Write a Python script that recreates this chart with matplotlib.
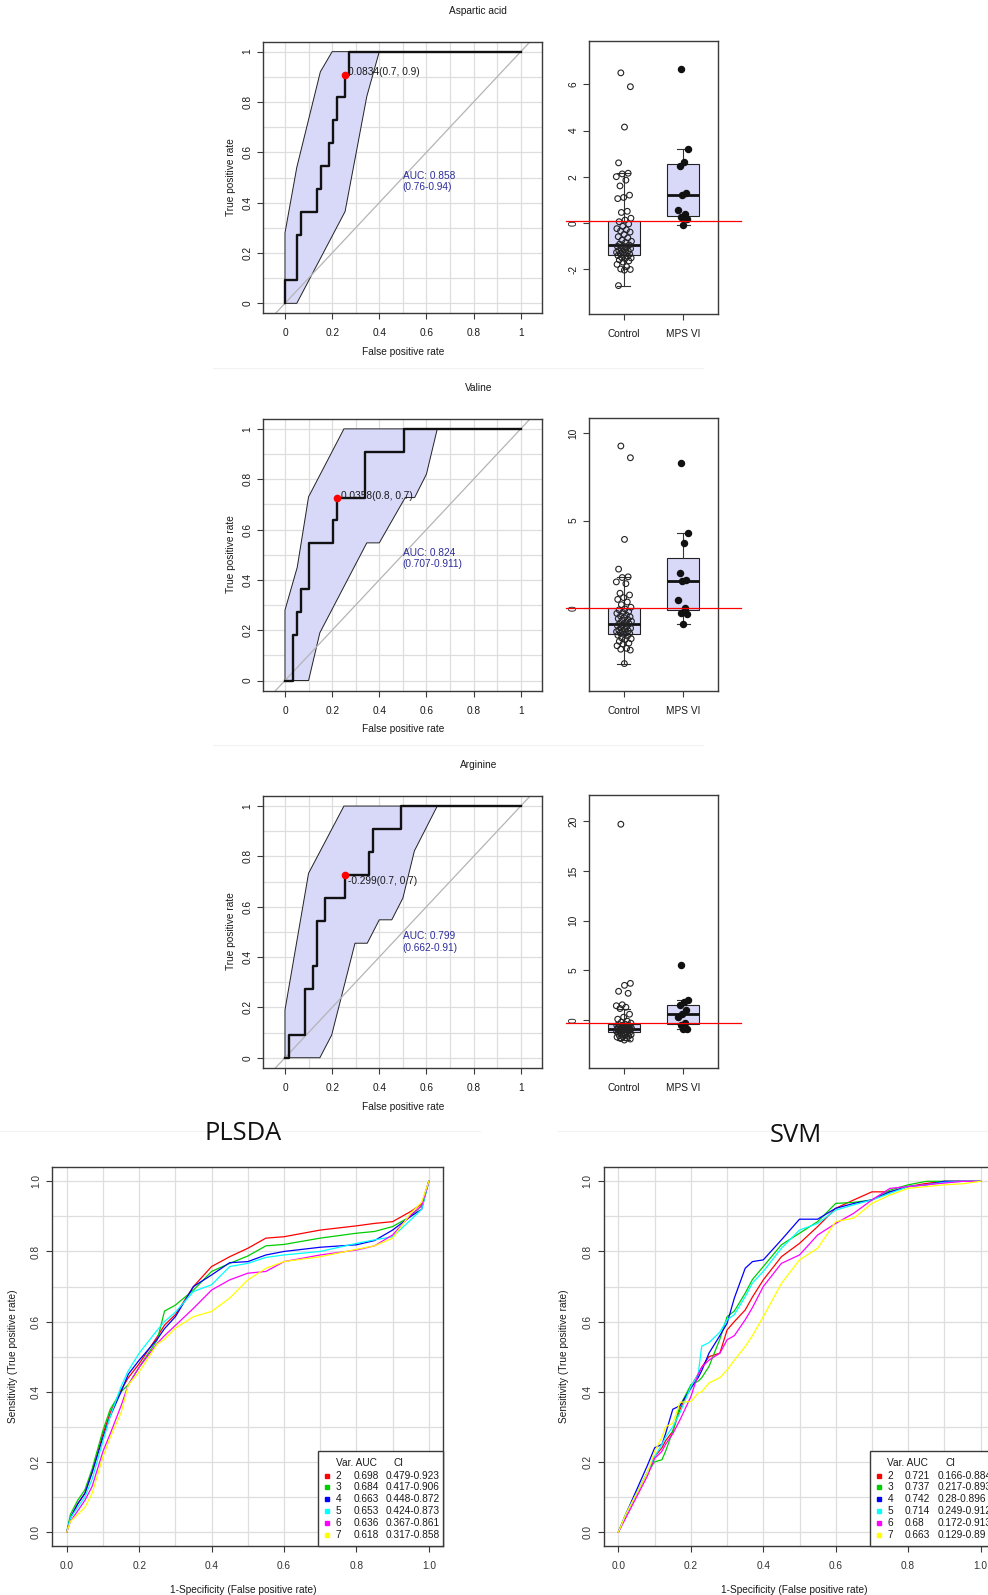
import matplotlib
matplotlib.use('Agg')
import matplotlib.pyplot as plt
from matplotlib.patches import Rectangle
import numpy as np

W, H, DPI = 988, 1595, 100
plt.rcParams['font.family'] = ['Liberation Sans', 'DejaVu Sans']

# ---------------- data: single-metabolite ROC curves ----------------
titles = ["Aspartic acid", "Valine", "Arginine"]

asp_fpr = [0, 0.051, 0.066, 0.134, 0.151, 0.187, 0.204, 0.219, 0.253, 0.270]
asp_tpr = [0.091, 0.273, 0.364, 0.455, 0.545, 0.636, 0.727, 0.818, 0.909, 1.0]
val_fpr = [0.034, 0.051, 0.066, 0.102, 0.205, 0.219, 0.339, 0.506]
val_tpr = [0.182, 0.273, 0.364, 0.545, 0.636, 0.727, 0.909, 1.0]
arg_fpr = [0.017, 0.085, 0.117, 0.134, 0.171, 0.253, 0.355, 0.372, 0.491]
arg_tpr = [0.091, 0.273, 0.364, 0.545, 0.636, 0.727, 0.818, 0.909, 1.0]

# confidence bands (polygon vertices, fpr / tpr)
asp_band_x = [0, 0, 0.05, 0.15, 0.20, 0.40, 0.347, 0.255, 0.05, 0]
asp_band_y = [0, 0.28, 0.54, 0.92, 1.0, 1.0, 0.822, 0.365, 0, 0]
val_band_x = [0, 0, 0.052, 0.10, 0.25, 0.646, 0.60, 0.55, 0.51, 0.40, 0.347, 0.148, 0.10, 0]
val_band_y = [0, 0.28, 0.45, 0.73, 1.0, 1.0, 0.82, 0.727, 0.727, 0.547, 0.547, 0.19, 0, 0]
arg_band_x = [0, 0, 0.10, 0.25, 0.646, 0.549, 0.50, 0.453, 0.40, 0.349, 0.297, 0.198, 0.148, 0]
arg_band_y = [0, 0.19, 0.733, 1.0, 1.0, 0.822, 0.634, 0.548, 0.548, 0.455, 0.455, 0.09, 0, 0]

best_points = [(0.253, 0.909), (0.219, 0.727), (0.253, 0.727)]
best_labels = ["0.0834(0.7, 0.9)", "0.0358(0.8, 0.7)", "-0.299(0.7, 0.7)"]
best_label_y = [0.918, 0.734, 0.704]
best_label_x = [0.269, 0.236, 0.269]
auc_labels = ["AUC: 0.858\n(0.76-0.94)", "AUC: 0.824\n(0.707-0.911)", "AUC: 0.799\n(0.662-0.91)"]
auc_label_y = [0.484, 0.486, 0.46]

# ---------------- data: box plots (normalised concentrations) ----------------
groups = ["Control", "MPS VI"]
asp_ctrl = [6.5, 5.9, 4.15, 2.6, 2.15, 2.12, 2.0, 1.85, 1.6, 1.2, 1.1, 1.05, 0.5, 0.45, 0.2, 0.12,
            0.05, -0.05, -0.15, -0.25, -0.3, -0.35, -0.4, -0.5, -0.6, -0.65, -0.75, -0.8, -0.85, -0.92,
            -0.96, -1.0, -1.02, -1.05, -1.1, -1.12, -1.15, -1.2, -1.22, -1.25, -1.28, -1.3, -1.33, -1.36,
            -1.39, -1.42, -1.45, -1.5, -1.52, -1.55, -1.6, -1.65, -1.7, -1.8, -1.9, -2.0, -2.02, -2.05, -2.72]
asp_mps = [6.65, 3.2, 2.65, 2.45, 1.3, 1.2, 0.55, 0.4, 0.25, 0.15, -0.1]
val_ctrl = [9.27, 8.6, 3.93, 2.23, 1.79, 1.75, 1.5, 1.4, 0.85, 0.75, 0.6, 0.5, 0.35, 0.2, 0.05,
            -0.05, -0.1, -0.2, -0.25, -0.3, -0.4, -0.45, -0.5, -0.55, -0.6, -0.65, -0.7, -0.75, -0.82,
            -0.88, -0.9, -0.95, -1.0, -1.05, -1.1, -1.15, -1.2, -1.25, -1.3, -1.32, -1.35, -1.4, -1.42,
            -1.45, -1.5, -1.55, -1.6, -1.7, -1.75, -1.8, -1.9, -2.0, -2.05, -2.15, -2.3, -2.35, -2.4, -3.17]
val_mps = [8.3, 4.27, 3.7, 2.0, 1.6, 1.55, 0.45, 0.02, -0.3, -0.32, -0.88]
arg_ctrl = [19.7, 3.7, 3.5, 2.9, 2.7, 1.55, 1.45, 1.3, 1.17, 0.6, 0.3, 0.1, -0.1, -0.2, -0.3,
            -0.4, -0.45, -0.5, -0.52, -0.55, -0.6, -0.62, -0.65, -0.7, -0.72, -0.75, -0.78, -0.8, -0.82,
            -0.84, -0.86, -0.88, -0.9, -0.93, -0.95, -0.98, -1.0, -1.03, -1.06, -1.1, -1.13, -1.16, -1.2,
            -1.22, -1.26, -1.3, -1.35, -1.4, -1.45, -1.5, -1.55, -1.6, -1.65, -1.7, -1.8, -1.85, -1.9, -2.0]
arg_mps = [5.55, 2.0, 1.8, 1.5, 1.0, 0.64, 0.3, -0.3, -0.5, -0.85, -0.9]

# box statistics: (q1, median, q3, whisker low, whisker high)
asp_box = [(-1.40, -0.96, 0.09, -2.72, 2.15), (0.31, 1.21, 2.54, -0.11, 3.19)]
val_box = [(-1.47, -0.88, 0.0, -3.17, 1.79), (-0.11, 1.53, 2.84, -0.88, 4.27)]
arg_box = [(-1.24, -0.84, -0.37, -2.0, 1.17), (-0.37, 0.64, 1.57, -0.84, 2.0)]
cutoffs = [0.09, 0.0, -0.27]
box_ylims = [(-3.95, 7.88), (-4.75, 10.86), (-4.85, 22.6)]
box_yticks = [[-2, 0, 2, 4, 6], [0, 5, 10], [0, 5, 10, 15, 20]]

# ---------------- data: multivariate ROC curves ----------------
var_names = ["2", "3", "4", "5", "6", "7"]
curve_colors = ["#ff0000", "#00cd00", "#0000ff", "#00ffff", "#ff00ff", "#ffff00"]

pls_x = [0, 0.01, 0.03, 0.05, 0.07, 0.1, 0.12, 0.15, 0.17, 0.2, 0.25, 0.27, 0.3, 0.35, 0.4, 0.45,
         0.5, 0.55, 0.6, 0.7, 0.8, 0.85, 0.9, 0.95, 0.98, 1.0]
pls_auc = ["0.698", "0.684", "0.663", "0.653", "0.636", "0.618"]
pls_ci = ["0.479-0.923", "0.417-0.906", "0.448-0.872", "0.424-0.873", "0.367-0.861", "0.317-0.858"]
pls_y = [
    [0, 0.04, 0.08, 0.11, 0.17, 0.28, 0.34, 0.405, 0.44, 0.48, 0.557, 0.59, 0.62, 0.70, 0.757, 0.785,
     0.809, 0.838, 0.842, 0.861, 0.873, 0.88, 0.885, 0.914, 0.935, 1.0],
    [0, 0.05, 0.09, 0.12, 0.18, 0.29, 0.35, 0.40, 0.42, 0.47, 0.548, 0.63, 0.647, 0.69, 0.743, 0.766,
     0.787, 0.816, 0.82, 0.838, 0.852, 0.857, 0.871, 0.90, 0.93, 1.0],
    [0, 0.04, 0.08, 0.11, 0.17, 0.27, 0.33, 0.40, 0.45, 0.49, 0.55, 0.58, 0.614, 0.70, 0.733, 0.768,
     0.771, 0.79, 0.80, 0.812, 0.819, 0.831, 0.861, 0.90, 0.92, 1.0],
    [0, 0.04, 0.07, 0.10, 0.15, 0.26, 0.33, 0.415, 0.46, 0.51, 0.576, 0.60, 0.627, 0.686, 0.705, 0.757,
     0.766, 0.783, 0.79, 0.80, 0.823, 0.833, 0.842, 0.89, 0.92, 1.0],
    [0, 0.03, 0.06, 0.09, 0.13, 0.23, 0.28, 0.36, 0.42, 0.47, 0.538, 0.56, 0.589, 0.638, 0.69, 0.719,
     0.738, 0.743, 0.771, 0.79, 0.804, 0.816, 0.847, 0.904, 0.93, 1.0],
    [0, 0.03, 0.05, 0.07, 0.11, 0.215, 0.27, 0.34, 0.42, 0.457, 0.536, 0.55, 0.581, 0.614, 0.629, 0.667,
     0.719, 0.752, 0.771, 0.785, 0.806, 0.816, 0.838, 0.909, 0.94, 1.0],
]

svm_x = [0, 0.02, 0.05, 0.08, 0.1, 0.12, 0.13, 0.15, 0.17, 0.2, 0.22, 0.23, 0.25, 0.28, 0.3, 0.32,
         0.35, 0.37, 0.4, 0.45, 0.5, 0.55, 0.6, 0.65, 0.7, 0.75, 0.8, 0.85, 0.9, 0.95, 1.0]
svm_auc = ["0.721", "0.737", "0.742", "0.714", "0.68", "0.663"]
svm_ci = ["0.166-0.884", "0.217-0.893", "0.28-0.896", "0.249-0.912", "0.172-0.913", "0.129-0.89"]
svm_y = [
    [0, 0.05, 0.11, 0.17, 0.215, 0.24, 0.26, 0.287, 0.35, 0.415, 0.45, 0.47, 0.50, 0.51, 0.576, 0.60,
     0.633, 0.67, 0.719, 0.785, 0.823, 0.871, 0.923, 0.947, 0.97, 0.97, 0.985, 0.994, 1.0, 1.0, 1.0],
    [0, 0.05, 0.11, 0.17, 0.20, 0.206, 0.23, 0.287, 0.36, 0.42, 0.43, 0.44, 0.472, 0.55, 0.614, 0.63,
     0.681, 0.72, 0.757, 0.819, 0.852, 0.885, 0.937, 0.94, 0.947, 0.975, 0.99, 1.0, 1.0, 1.0, 1.0],
    [0, 0.05, 0.12, 0.19, 0.24, 0.25, 0.28, 0.35, 0.36, 0.41, 0.44, 0.46, 0.51, 0.56, 0.595, 0.667,
     0.752, 0.771, 0.776, 0.833, 0.892, 0.892, 0.923, 0.937, 0.947, 0.97, 0.985, 0.99, 1.0, 1.0, 1.0],
    [0, 0.05, 0.11, 0.17, 0.215, 0.25, 0.27, 0.30, 0.34, 0.415, 0.45, 0.53, 0.54, 0.57, 0.605, 0.62,
     0.671, 0.71, 0.743, 0.809, 0.861, 0.88, 0.918, 0.933, 0.947, 0.966, 0.985, 0.99, 0.997, 1.0, 1.0],
    [0, 0.04, 0.10, 0.16, 0.21, 0.23, 0.25, 0.28, 0.32, 0.386, 0.45, 0.47, 0.49, 0.51, 0.548, 0.56,
     0.605, 0.64, 0.70, 0.766, 0.79, 0.847, 0.88, 0.909, 0.947, 0.98, 0.985, 0.99, 0.995, 1.0, 1.0],
    [0, 0.05, 0.11, 0.17, 0.23, 0.27, 0.30, 0.31, 0.37, 0.372, 0.396, 0.40, 0.425, 0.44, 0.462, 0.49,
     0.529, 0.56, 0.614, 0.709, 0.776, 0.809, 0.885, 0.895, 0.937, 0.961, 0.98, 0.985, 0.99, 0.993, 1.0],
]

# ---------------- drawing ----------------
GRID = '#dedede'
FRAME = '#3a3a3a'
BAND = '#d8d8f8'
TXT = '#1a1a1a'
FS = 7.3

fig = plt.figure(figsize=(W / DPI, H / DPI), dpi=DPI)
fig.patch.set_facecolor('white')


def px_axes(l, t, r, b):
    return fig.add_axes([l / W, 1 - b / H, (r - l) / W, (b - t) / H])


def ftext(x, y, s, **kw):
    kw.setdefault('color', TXT)
    kw.setdefault('ha', 'center')
    kw.setdefault('va', 'center')
    fig.text(x / W, 1 - y / H, s, **kw)


def frame(ax):
    for sp in ax.spines.values():
        sp.set_color(FRAME)
        sp.set_linewidth(1.0)


def grid01(ax):
    ax.set_xticks(np.arange(0, 1.01, 0.1), minor=True)
    ax.set_yticks(np.arange(0, 1.01, 0.1), minor=True)
    ax.grid(True, which='both', color=GRID, lw=0.9, zorder=0)
    ax.set_axisbelow(True)
    ax.tick_params(which='minor', length=0)


def rot_ylabels(ax, labels):
    ax.set_yticklabels(labels, rotation=90, va='center')


def jitter(n, w):
    return (((np.arange(n) * 0.6180339887 + 0.31) % 1.0) * 2 - 1) * w


rocs = [(asp_fpr, asp_tpr, asp_band_x, asp_band_y),
        (val_fpr, val_tpr, val_band_x, val_band_y),
        (arg_fpr, arg_tpr, arg_band_x, arg_band_y)]
boxes = [(asp_box, asp_ctrl, asp_mps), (val_box, val_ctrl, val_mps), (arg_box, arg_ctrl, arg_mps)]

for k in range(3):
    off = 377.2 * k
    fpr, tpr, bx, by = rocs[k]
    ax = px_axes(263.3, 41.6 + off, 541.7, 313.4 + off)
    ax.set_xlim(-0.092, 1.089)
    ax.set_ylim(-0.04, 1.04)
    grid01(ax)
    ax.fill(bx, by, facecolor=BAND, edgecolor='#222222', lw=0.7, zorder=1)
    ax.plot([-0.2, 1.2], [-0.2, 1.2], color='#b4b4b4', lw=0.9, zorder=2)
    ax.plot([0] + fpr + [1], [0] + tpr + [1], drawstyle='steps-post', color='#111111', lw=1.7, zorder=3)
    ax.plot([best_points[k][0]], [best_points[k][1]], 'o', color='#ff0000', ms=4.5, zorder=4)
    ax.text(best_label_x[k], best_label_y[k], best_labels[k], fontsize=FS, color=TXT, ha='left', va='center', zorder=5)
    ax.text(0.5, auc_label_y[k], auc_labels[k], fontsize=FS, color='#2e2e9a', ha='left', va='center',
            linespacing=1.15, zorder=5)
    ticks = [0, 0.2, 0.4, 0.6, 0.8, 1]
    tlab = ['0', '0.2', '0.4', '0.6', '0.8', '1']
    ax.set_xticks(ticks)
    ax.set_xticklabels(tlab)
    ax.set_yticks(ticks)
    rot_ylabels(ax, tlab)
    ax.tick_params(axis='both', which='major', direction='out', length=4.3, width=0.8, color=FRAME,
                   labelsize=FS, labelcolor=TXT)
    ax.tick_params(axis='x', pad=6.5)
    ax.tick_params(axis='y', pad=3.3)
    frame(ax)
    ftext(478.3, 11 + off, titles[k], fontsize=FS)
    ftext(230.7, 176.7 + off, "True positive rate", fontsize=FS, rotation=90)
    ftext(402.7, 352.3 + off, "False positive rate", fontsize=FS)

    # box plot
    st, ctrl, mps = boxes[k]
    bax = px_axes(589.3, 41.0 + off, 717.7, 314.0 + off)
    bax.set_xlim(0.42, 2.58)
    bax.set_ylim(*box_ylims[k])
    stats = [dict(q1=s[0], med=s[1], q3=s[2], whislo=s[3], whishi=s[4], fliers=[]) for s in st]
    bax.bxp(stats, positions=[1, 2], widths=0.53, patch_artist=True, showfliers=False,
            boxprops=dict(facecolor=BAND, edgecolor='#222222', lw=0.8),
            medianprops=dict(color='#111111', lw=2.0),
            whiskerprops=dict(color='#333333', lw=0.8),
            capprops=dict(color='#333333', lw=0.8), capwidths=0.22)
    bax.scatter(1 + jitter(len(ctrl), 0.13), ctrl, s=17, facecolors='none', edgecolors='#222222',
                linewidths=0.8, zorder=4)
    bax.scatter(2 + jitter(len(mps), 0.09), mps, s=19, c='#111111', zorder=4)
    bax.plot([0.034, 2.97], [cutoffs[k], cutoffs[k]], color='#ff0000', lw=0.9, clip_on=False, zorder=5)
    bax.set_xticks([1, 2])
    bax.set_xticklabels(groups)
    bax.set_yticks(box_yticks[k])
    rot_ylabels(bax, [str(v) for v in box_yticks[k]])
    bax.tick_params(axis='both', direction='out', length=4.3, width=0.8, color=FRAME,
                    labelsize=FS, labelcolor=TXT)
    bax.tick_params(axis='x', pad=6.5)
    bax.tick_params(axis='y', pad=3.3)
    frame(bax)

# faint separators from the composed image
for y0, x0, x1 in [(368, 213, 703), (745, 213, 703), (1131, 0, 480), (1131, 558, 988)]:
    fig.add_artist(plt.Line2D([x0 / W, x1 / W], [1 - y0 / H, 1 - y0 / H], color='#f2f2f2', lw=0.8))


def multi_panel(left, xs, ys, aucs, cis, title, title_x, title_y):
    ax = px_axes(left, 1167.3, left + 391.0, 1546.0)
    ax.set_xlim(-0.04, 1.04)
    ax.set_ylim(-0.04, 1.04)
    grid01(ax)
    for y, c in zip(ys, curve_colors):
        ax.plot(xs, y, color=c, lw=0.9, zorder=3)
    ticks = [0, 0.2, 0.4, 0.6, 0.8, 1.0]
    tl = ['0.0', '0.2', '0.4', '0.6', '0.8', '1.0']
    ax.set_xticks(ticks)
    ax.set_xticklabels(tl)
    ax.set_yticks(ticks)
    rot_ylabels(ax, tl)
    ax.tick_params(axis='both', which='major', direction='out', length=4.3, width=0.8, color=FRAME,
                   labelsize=FS, labelcolor='#333333')
    ax.tick_params(axis='x', pad=6.5)
    ax.tick_params(axis='y', pad=4.0)
    frame(ax)
    # legend
    ax.add_patch(Rectangle((0.694, -0.04), 1.04 - 0.694, 0.2696, facecolor='white', edgecolor=FRAME,
                           lw=1.0, zorder=6, clip_on=False))
    ax.text(0.743, 0.197, "Var. AUC", fontsize=FS, color=TXT, ha='left', va='center', zorder=7)
    ax.text(0.902, 0.197, "CI", fontsize=FS, color=TXT, ha='left', va='center', zorder=7)
    row_y = [0.161, 0.128, 0.094, 0.061, 0.027, -0.008]
    for i in range(6):
        ax.plot([0.719], [row_y[i]], 's', color=curve_colors[i], ms=3.2, zorder=7, clip_on=False)
        ax.text(0.751, row_y[i], var_names[i], fontsize=FS, color=TXT, ha='center', va='center', zorder=7)
        ax.text(0.791, row_y[i], aucs[i], fontsize=FS, color=TXT, ha='left', va='center', zorder=7)
        ax.text(0.881, row_y[i], cis[i], fontsize=FS, color=TXT, ha='left', va='center', zorder=7,
                clip_on=False)
    ftext(title_x, title_y, title, fontsize=18.4, family=['Open Sans', 'DejaVu Sans'], color='#111111')
    cx = left + 0.5 * 391.0 - 5
    ftext(cx, 1590, "1-Specificity (False positive rate)", fontsize=FS)
    ftext(left - 39.6, 1356.7, "Sensitivity (True positive rate)", fontsize=FS, rotation=90)


multi_panel(52.3, pls_x, pls_y, pls_auc, pls_ci, "PLSDA", 242.7, 1134)
multi_panel(604.0, svm_x, svm_y, svm_auc, svm_ci, "SVM", 796, 1135)

fig.savefig('out.png', dpi=DPI, facecolor='white')
